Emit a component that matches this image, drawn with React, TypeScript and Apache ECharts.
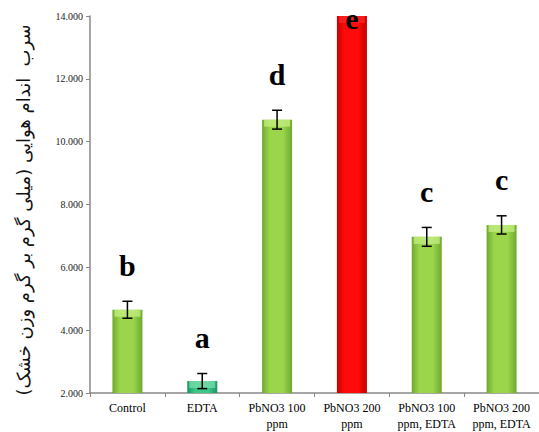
import React, { useEffect, useRef } from "react";
import * as echarts from "echarts";

const categories = [
  "Control",
  "EDTA",
  "PbNO3 100\nppm",
  "PbNO3 200\nppm",
  "PbNO3 100\nppm, EDTA",
  "PbNO3 200\nppm, EDTA",
];
const means = [4.65, 2.38, 10.7, 14.0, 6.97, 7.35];
const errors = [0.27, 0.24, 0.3, 0, 0.3, 0.29];
const letters = ["b", "a", "d", "e", "c", "c"];
const barKinds = ["green", "teal", "green", "red", "green", "green"];
const yTicks = { min: 2, max: 14, interval: 2 };
const yAxisTitle = "سرب  اندام هوایی (میلی گرم بر گرم وزن خشک)";

const serif = "Liberation Serif";

const palette: Record<string, { edge: string; mid: string; cap: string }> = {
  green: { edge: "#6fa92e", mid: "#9ad54c", cap: "#c2ec7e" },
  teal: { edge: "#17975e", mid: "#3cc786", cap: "#74dcaa" },
  red: { edge: "#c40000", mid: "#ff0a0a", cap: "#ff2020" },
};

export default function App() {
  const ref = useRef<HTMLDivElement>(null);
  useEffect(() => {
    if (!ref.current) return;
    const chart = echarts.init(ref.current, null, { renderer: "svg" });
    const barData = means.map((v, i) => {
      const p = palette[barKinds[i]];
      return {
        value: v,
        itemStyle: {
          color: new echarts.graphic.LinearGradient(0, 0, 1, 0, [
            { offset: 0, color: p.edge },
            { offset: 0.25, color: p.mid },
            { offset: 0.7, color: p.mid },
            { offset: 1, color: p.edge },
          ]),
        },
      };
    });
    chart.setOption({
      animation: false,
      backgroundColor: "#ffffff",
      grid: { left: 90, right: -5, top: 16, bottom: 39, containLabel: false },
      graphic: [
        {
          type: "text",
          x: 23,
          y: 210,
          rotation: Math.PI / 2,
          style: {
            text: yAxisTitle,
            font: '18px "DejaVu Sans"',
            fill: "#111",
            align: "center",
            verticalAlign: "middle",
          },
        },
      ],
      xAxis: {
        type: "category",
        data: categories,
        axisLine: { lineStyle: { color: "#888", width: 1.5 } },
        axisTick: { show: true, alignWithLabel: false, length: 4, lineStyle: { color: "#888" } },
        axisLabel: {
          color: "#000",
          fontFamily: serif,
          fontSize: 12,
          lineHeight: 16,
          margin: 7,
          interval: 0,
        },
      },
      yAxis: {
        type: "value",
        min: yTicks.min,
        max: yTicks.max,
        interval: yTicks.interval,
        axisLine: { show: true, lineStyle: { color: "#888", width: 1.5 } },
        axisTick: { show: true, length: 4, lineStyle: { color: "#888" } },
        splitLine: { show: false },
        axisLabel: {
          color: "#222",
          fontFamily: serif,
          fontSize: 10,
          margin: 7,
          formatter: (v: number) => v.toFixed(3),
        },
      },
      series: [
        {
          type: "bar",
          data: barData,
          barWidth: 30,
          z: 2,
        },
        {
          type: "custom",
          z: 5,
          data: means.map((v, i) => [i, v, errors[i]]),
          renderItem: (params: any, api: any) => {
            const i = api.value(0);
            const v = api.value(1);
            const e = api.value(2);
            const top = api.coord([i, v]);
            const hi = api.coord([i, v + e]);
            const lo = api.coord([i, v - e]);
            const x = top[0];
            const p = palette[barKinds[i]];
            const children: any[] = [
              {
                type: "rect",
                shape: { x: x - 13, y: top[1], width: 26, height: 7 },
                style: { fill: p.cap, opacity: 0.8 },
              },
            ];
            if (e > 0) {
              const cw = 5;
              children.push(
                { type: "line", shape: { x1: x, y1: hi[1], x2: x, y2: lo[1] }, style: { stroke: "#000", lineWidth: 1.5 } },
                { type: "line", shape: { x1: x - cw, y1: hi[1], x2: x + cw, y2: hi[1] }, style: { stroke: "#000", lineWidth: 1.5 } },
                { type: "line", shape: { x1: x - cw, y1: lo[1], x2: x + cw, y2: lo[1] }, style: { stroke: "#000", lineWidth: 1.5 } }
              );
            }
            const ly = Math.max(hi[1] - 36, 18);
            children.push({
              type: "text",
              style: {
                x: x,
                y: ly,
                text: letters[i],
                font: 'bold 30px "Liberation Serif"',
                fill: "#000",
                align: "center",
                verticalAlign: "middle",
              },
            });
            return { type: "group", children };
          },
        },
      ],
    });
    return () => chart.dispose();
  }, []);
  return (
    <div
      ref={ref}
      style={{ position: "fixed", left: 0, top: 0, width: 539, height: 432 }}
    />
  );
}
